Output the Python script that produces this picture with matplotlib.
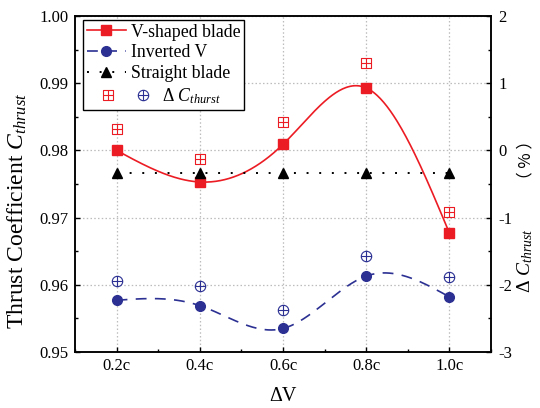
import numpy as np
import matplotlib
matplotlib.use('Agg')
import matplotlib.pyplot as plt
from matplotlib.path import Path
from matplotlib.lines import Line2D
from matplotlib.ticker import MultipleLocator, FormatStrFormatter

plt.rcParams['font.family'] = ['Liberation Serif', 'Noto Sans CJK SC']
plt.rcParams['mathtext.fontset'] = 'custom'
plt.rcParams['mathtext.rm'] = 'Liberation Serif'
plt.rcParams['mathtext.it'] = 'Liberation Serif:italic'
plt.rcParams['axes.unicode_minus'] = False

# data
dv = [0.2, 0.4, 0.6, 0.8, 1.0]
dv_labels = ['0.2c', '0.4c', '0.6c', '0.8c', '1.0c']
ct_vshape = [0.9800, 0.9753, 0.9809, 0.9893, 0.9677]
ct_inverted = [0.9577, 0.9569, 0.9535, 0.9613, 0.9582]
ct_straight = [0.9767, 0.9767, 0.9767, 0.9767, 0.9767]
dct_vshape = [0.32, -0.13, 0.43, 1.30, -0.92]
dct_inverted = [-1.94, -2.02, -2.37, -1.57, -1.88]

red = '#ec1c24'
blue = '#2b3092'


def spline(x, y, n=300):
    # natural cubic spline through the points (smooth connecting line)
    x = np.asarray(x, float)
    y = np.asarray(y, float)
    k = len(x)
    h = np.diff(x)
    A = np.zeros((k, k))
    b = np.zeros(k)
    A[0, 0] = A[-1, -1] = 1
    for i in range(1, k - 1):
        A[i, i - 1] = h[i - 1]
        A[i, i] = 2 * (h[i - 1] + h[i])
        A[i, i + 1] = h[i]
        b[i] = 6 * ((y[i + 1] - y[i]) / h[i] - (y[i] - y[i - 1]) / h[i - 1])
    M = np.linalg.solve(A, b)
    xs = np.linspace(x[0], x[-1], n)
    j = np.clip(np.searchsorted(x, xs) - 1, 0, k - 2)
    t0 = x[j + 1] - xs
    t1 = xs - x[j]
    ys = (M[j] * t0**3 + M[j + 1] * t1**3) / (6 * h[j]) \
        + (y[j] / h[j] - M[j] * h[j] / 6) * t0 \
        + (y[j + 1] / h[j] - M[j + 1] * h[j] / 6) * t1
    return xs, ys


# open markers: square with cross, circle with cross
cross = Path([(-1, 0), (1, 0), (0, -1), (0, 1)],
             [Path.MOVETO, Path.LINETO, Path.MOVETO, Path.LINETO])
box = Path([(-1, -1), (1, -1), (1, 1), (-1, 1), (-1, -1)],
           [Path.MOVETO, Path.LINETO, Path.LINETO, Path.LINETO, Path.CLOSEPOLY])
boxplus = Path.make_compound_path(box, cross)
oplus = Path.make_compound_path(Path.unit_circle(), cross)


class PairHandler:
    def legend_artist(self, legend, orig_handle, fontsize, handlebox):
        w, h = handlebox.width, handlebox.height
        x0, y0 = -handlebox.xdescent, -handlebox.ydescent
        arts = []
        for frac, src in zip([0.55, 1.45], orig_handle):
            m = Line2D([x0 + frac * w], [y0 + h / 2], ls='none',
                       marker=src.get_marker(), ms=src.get_markersize(),
                       mec=src.get_markeredgecolor(), mfc='none',
                       mew=src.get_markeredgewidth())
            handlebox.add_artist(m)
            arts.append(m)
        return arts[0]


fig = plt.figure(figsize=(5.4, 4.08), dpi=100)
ax = fig.add_axes([75 / 540, 1 - 352 / 408, 416 / 540, 336 / 408])

xs, ys = spline(dv, ct_vshape)
ax.plot(xs, ys, color=red, lw=1.2)
ax.plot(dv, ct_vshape, ls='none', marker='s', ms=6.5, color=red)

xs, ys = spline(dv, ct_inverted)
ax.plot(xs, ys, color=blue, lw=1.2, ls=(0, (6.5, 5)))
ax.plot(dv, ct_inverted, ls='none', marker='o', ms=7, color=blue)

ax.plot(dv, ct_straight, color='black', lw=1.4, ls=(0, (1, 5.5)))
ax.plot(dv, ct_straight, ls='none', marker='^', ms=7.5, color='black')

ax.set_xlim(0.1, 1.1)
ax.set_ylim(0.95, 1.00)
ax.set_xticks(dv, dv_labels)
ax.xaxis.set_minor_locator(MultipleLocator(0.1))
ax.yaxis.set_major_locator(MultipleLocator(0.01))
ax.yaxis.set_minor_locator(MultipleLocator(0.005))
ax.yaxis.set_major_formatter(FormatStrFormatter('%.2f'))
ax.tick_params(which='both', direction='in', top=False, right=False,
               labelsize=12, width=1)
ax.tick_params(which='major', length=3.5, pad=4.5)
ax.tick_params(which='minor', length=2.5)
ax.grid(True, which='major', color='#bcbcbc', lw=0.9, ls=(0, (1.2, 1.8)))
ax.set_axisbelow(True)
for s in ax.spines.values():
    s.set_linewidth(1.1)

ax.set_ylabel('Thrust Coefficient $C_{thrust}$', fontsize=17)
ax.yaxis.set_label_coords(-0.11, 0.42)
ax.set_xlabel('ΔV', fontsize=14.5)
ax.xaxis.set_label_coords(0.5, -0.105)

ax2 = ax.twinx()
ax2.plot(dv, dct_vshape, ls='none', marker=boxplus, ms=7, mec=red,
         mfc='none', mew=0.8)
ax2.plot(dv, dct_inverted, ls='none', marker=oplus, ms=7.5, mec=blue,
         mfc='none', mew=0.8)
ax2.set_ylim(-3, 2)
ax2.yaxis.set_major_locator(MultipleLocator(1))
ax2.yaxis.set_minor_locator(MultipleLocator(0.5))
ax2.tick_params(which='both', direction='in', labelsize=12, width=1)
ax2.tick_params(which='major', length=3.5, pad=5.5)
ax2.tick_params(which='minor', length=2.5)
for s in ax2.spines.values():
    s.set_linewidth(1.1)

ax2.text(1.082, (352 - 293) / 336, 'Δ $C_{thrust}$', transform=ax2.transAxes,
         rotation=90, ha='center', va='bottom', fontsize=14)
ax2.text(1.085, (352 - 160) / 336, '（ % ）', transform=ax2.transAxes,
         rotation=90, ha='center', va='center', fontsize=12,
         family=['Noto Sans CJK SC', 'DejaVu Sans'])

h_v = Line2D([], [], color=red, lw=1.2, marker='s', ms=6.5)
h_inv = Line2D([], [], color=blue, lw=1.2, ls=(0, (6.5, 5)), marker='o', ms=7)
h_str = Line2D([], [], color='black', lw=1.4, ls=(0, (1, 5.5)), marker='^', ms=7.5)
h_dv = Line2D([], [], ls='none', marker=boxplus, ms=7, mec=red, mfc='none', mew=0.8)
h_dinv = Line2D([], [], ls='none', marker=oplus, ms=7.5, mec=blue, mfc='none', mew=0.8)

leg = ax2.legend([h_v, h_inv, h_str, (h_dv, h_dinv)],
                 ['V-shaped blade', 'Inverted V', 'Straight blade',
                  '       Δ $C_{thurst}$'],
                 handler_map={tuple: PairHandler()},
                 loc='upper left', bbox_to_anchor=(8 / 416, 1 - 4 / 336),
                 borderaxespad=0, borderpad=0.2, handlelength=2.2,
                 handletextpad=0.3, labelspacing=0.22, fontsize=12.8,
                 fancybox=False, edgecolor='black', framealpha=1)
leg.get_frame().set_linewidth(1.0)

fig.savefig('out.png', dpi=100)
